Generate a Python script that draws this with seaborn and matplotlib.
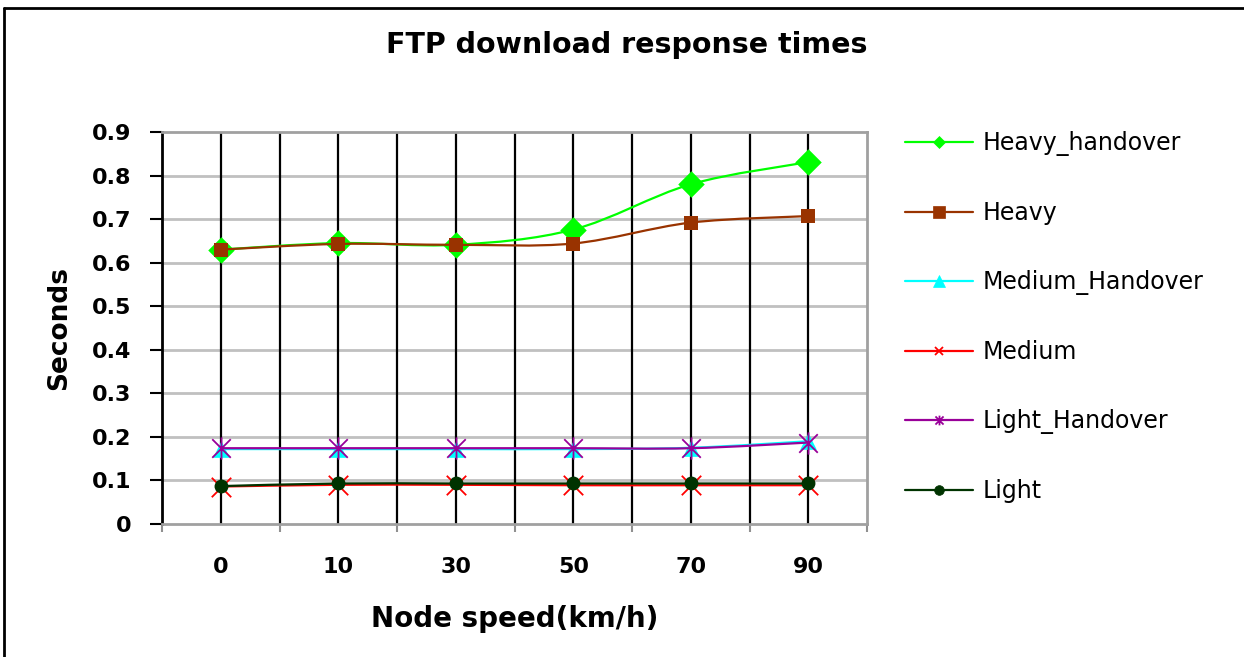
import numpy as np
import matplotlib
matplotlib.use("Agg")
import matplotlib.pyplot as plt
from matplotlib.path import Path
from matplotlib.patches import PathPatch
from matplotlib.lines import Line2D
import seaborn as sns

# ---- data -------------------------------------------------------------
speeds = ["0", "10", "30", "50", "70", "90"]
series_names = ["Heavy_handover", "Heavy", "Medium_Handover", "Medium",
                "Light_Handover", "Light"]
heavy_handover = [0.630, 0.645, 0.641, 0.676, 0.780, 0.831]
heavy = [0.630, 0.643, 0.641, 0.644, 0.692, 0.707]
medium_handover = [0.172, 0.172, 0.172, 0.172, 0.175, 0.190]
medium = [0.086, 0.090, 0.090, 0.089, 0.089, 0.089]
light_handover = [0.174, 0.174, 0.174, 0.174, 0.174, 0.187]
light = [0.087, 0.093, 0.093, 0.093, 0.093, 0.093]
y_ticks = [0.0, 0.1, 0.2, 0.3, 0.4, 0.5, 0.6, 0.7, 0.8, 0.9]
y_tick_labels = ["0", "0.1", "0.2", "0.3", "0.4", "0.5", "0.6", "0.7", "0.8", "0.9"]

# ---- styling ----------------------------------------------------------
sns.set_style("white")
plt.rcParams["font.family"] = ["DejaVu Sans"]
plt.rcParams["text.color"] = "black"
plt.rcParams["axes.labelcolor"] = "black"
plt.rcParams["xtick.color"] = "black"
plt.rcParams["ytick.color"] = "black"

asterisk = Path([(-1, -1), (1, 1), (-1, 1), (1, -1), (0, -1.2), (0, 1.2)],
                [Path.MOVETO, Path.LINETO, Path.MOVETO, Path.LINETO,
                 Path.MOVETO, Path.LINETO])

styles = {
    "Heavy_handover": dict(color="#00ff00", marker="D", size=13.5, leg=6, mew=0),
    "Heavy": dict(color="#993300", marker="s", size=10, leg=8, mew=0),
    "Medium_Handover": dict(color="#00ffff", marker="^", size=12, leg=8, mew=0),
    "Medium": dict(color="#ff0000", marker="x", size=14, leg=6, mew=1.3),
    "Light_Handover": dict(color="#990099", marker=asterisk, size=16, leg=7, mew=1.3),
    "Light": dict(color="#003300", marker="o", size=10, leg=7, mew=0),
}
values = {
    "Heavy_handover": heavy_handover,
    "Heavy": heavy,
    "Medium_Handover": medium_handover,
    "Medium": medium,
    "Light_Handover": light_handover,
    "Light": light,
}

fig = plt.figure(figsize=(12.44, 6.57), dpi=100)
ax = fig.add_axes([162 / 1244, 1 - 524 / 657, (867 - 162) / 1244, (524 - 132) / 657])

x = np.arange(len(speeds))


def smooth_path(xs, ys):
    """Cubic Bezier path through the points (Catmull-Rom style smoothing)."""
    pts = np.column_stack([xs, ys]).astype(float)
    n = len(pts)
    verts = [pts[0]]
    codes = [Path.MOVETO]
    for i in range(n - 1):
        p0 = pts[i - 1] if i > 0 else pts[i]
        p1 = pts[i]
        p2 = pts[i + 1]
        p3 = pts[i + 2] if i + 2 < n else pts[i + 1]
        c1 = p1 + (p2 - p0) / 6.0
        c2 = p2 - (p3 - p1) / 6.0
        verts += [c1, c2, p2]
        codes += [Path.CURVE4] * 3
    return Path(verts, codes)


for k, name in enumerate(series_names):
    st = styles[name]
    ys = values[name]
    z = 5 + 2 * k
    ax.add_patch(PathPatch(smooth_path(x, ys), fill=False, edgecolor=st["color"],
                           lw=1.6, zorder=z, capstyle="butt"))
    sns.scatterplot(x=x, y=ys, marker=st["marker"], s=st["size"] ** 2,
                    color=st["color"], edgecolor=st["color"],
                    linewidth=st["mew"], ax=ax, zorder=z + 1, legend=False)

# grid
for yv in y_ticks[1:-1]:
    ax.axhline(yv, color="#c0c0c0", lw=2, zorder=1)
for xv in np.arange(0, len(speeds)):
    ax.axvline(xv, color="black", lw=1.6, zorder=2)
for xv in np.arange(0.5, len(speeds) - 0.5, 1.0):
    ax.axvline(xv, color="black", lw=1.6, zorder=2)

ax.set_xlim(-0.5, len(speeds) - 0.5)
ax.set_ylim(0, 0.9)

ax.set_yticks(y_ticks)
ax.set_yticklabels(y_tick_labels, fontsize=16, fontweight="bold")
ax.set_xticks(x)
ax.set_xticklabels(speeds, fontsize=16, fontweight="bold")
ax.set_xticks(np.arange(-0.5, len(speeds), 1.0), minor=True)
ax.tick_params(axis="y", direction="out", length=9, width=1.5, color="black",
               labelcolor="black", pad=13, left=True)
ax.tick_params(axis="x", which="major", length=0, pad=24, bottom=True,
               labelcolor="black")
ax.tick_params(axis="x", which="minor", direction="out", length=6, width=1.5,
               color="#909090", bottom=True)

for side in ["top", "right", "bottom"]:
    ax.spines[side].set_color("#a0a0a0")
    ax.spines[side].set_linewidth(2)
ax.spines["left"].set_color("black")
ax.spines["left"].set_linewidth(2)

ax.set_ylabel("Seconds", fontsize=19, fontweight="bold", labelpad=14)
ax.set_xlabel("Node speed(km/h)", fontsize=20, fontweight="bold", labelpad=20)

fig.text(0.504, 0.931, "FTP download response times", fontsize=20.5,
         fontweight="bold", ha="center", va="center")

# legend
handles = []
for name in series_names:
    st = styles[name]
    handles.append(Line2D([0], [0], color=st["color"], lw=1.6, marker=st["marker"],
                          markersize=st["leg"], markerfacecolor=st["color"],
                          markeredgecolor=st["color"],
                          markeredgewidth=st["mew"] if st["mew"] > 0 else 0.5))
fig.legend(handles, series_names, loc="upper left",
           bbox_to_anchor=(905 / 1244, 1 - 131 / 657), frameon=False,
           fontsize=17, handlelength=2.88, handletextpad=0.42, labelspacing=1.91,
           borderaxespad=0, borderpad=0)

# outer frame (left and top edges)
fig.add_artist(Line2D([4 / 1244, 4 / 1244], [0, 1 - 8 / 657], color="black",
                      lw=2, transform=fig.transFigure))
fig.add_artist(Line2D([4 / 1244, 1], [1 - 8 / 657, 1 - 8 / 657], color="black",
                      lw=2, transform=fig.transFigure))

fig.savefig("out.png", dpi=100)
